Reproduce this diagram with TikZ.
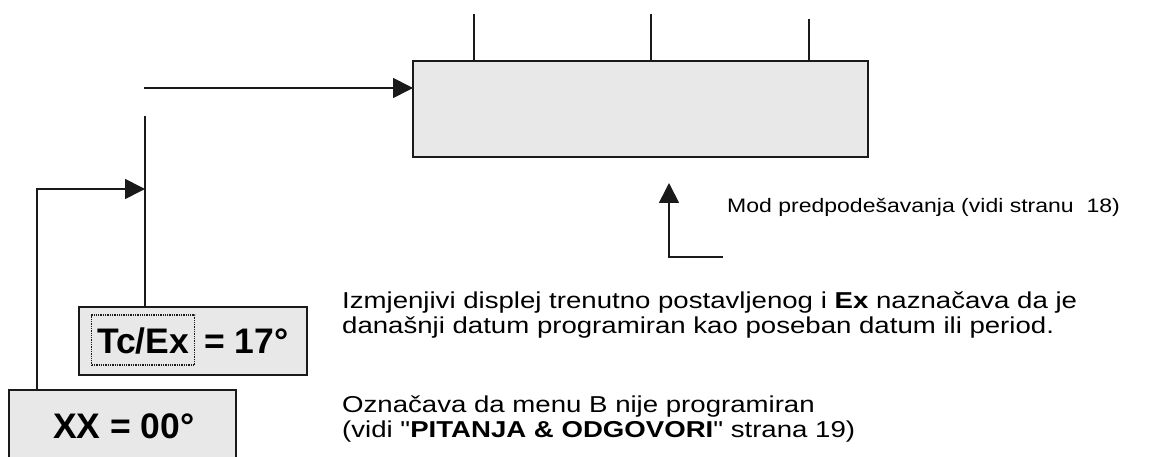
\documentclass[tikz,border=0pt]{standalone}
\usepackage{fontspec}
\setmainfont{Liberation Sans}
\newfontfamily\notefont[FakeStretch=1.2]{Liberation Sans}
\newfontfamily\modfont[FakeStretch=1.18]{Liberation Sans}
\usetikzlibrary{arrows.meta}
\definecolor{boxgray}{HTML}{E8E8E8}
\definecolor{ink}{HTML}{1A1A1A}
\begin{document}
\begin{tikzpicture}[x=1pt,y=-1pt,
  lcd/.style={draw=ink,line width=2pt,fill=boxgray,inner sep=0pt,outer sep=0pt,anchor=north west},
  conn/.style={draw=ink,line width=1.7pt},
  arr/.style={conn,-{Triangle[length=20pt,width=20pt]}},
  note/.style={anchor=base west,inner sep=0pt,align=left,font=\notefont\fontsize{23}{24.5}\selectfont},
  modnote/.style={anchor=base west,inner sep=0pt,font=\modfont\fontsize{19.5}{22}\selectfont},
  big/.style={anchor=base west,inner sep=0pt,font=\fontsize{35.5}{40}\selectfont\bfseries}]
\useasboundingbox (0,0) rectangle (1156,457);

% display box and its ticks
\node[lcd,minimum width=455pt,minimum height=96pt] (disp) at (413,61) {};
\coordinate (t1) at (474,14);
\coordinate (t2) at (651,14);
\coordinate (t3) at (809,19);
\draw[conn] (t1) -- (t1 |- disp.north);
\draw[conn] (t2) -- (t2 |- disp.north);
\draw[conn] (t3) -- (t3 |- disp.north);

% input arrow
\coordinate (in1) at (144,88);
\draw[arr] (in1) -- (in1 -| disp.west);

% boxes bottom left
\node[lcd,minimum width=228pt,minimum height=68pt] (tc) at (79,307) {};
\node[lcd,minimum width=227pt,minimum height=90pt] (xx) at (9,390) {};

\node[big,draw=ink,densely dotted,line width=1.3pt,inner xsep=5.5pt,inner ysep=0pt,
      text height=38pt,text depth=12pt] (tcex) at (91,353) {Tc/Ex};
\node[big] (tceq) at (204,353) {= 17°};
\node[big] (xxt) at (53,438) {XX = 00°};

% connectors from bottom-left boxes
\coordinate (v1) at (145,116);
\draw[conn] (v1) -- (v1 |- tc.north);
\coordinate (xxup) at (37,189);
\draw[arr] (xxup |- xx.north) -- (xxup) -- (xxup -| v1);

% preset mode arrow
\coordinate (mcorner) at (669,257);
\coordinate (mend) at (723,257);
\coordinate (mtip) at (669,183);
\draw[arr] (mend) -- (mcorner) -- (mtip);
\node[modnote] (modtext) at (727,213) {Mod predpodešavanja (vidi stranu\ \ 18)};

% notes (base anchor = baseline of the last line)
\node[note] (note1) at (342,333) {Izmjenjivi displej trenutno postavljenog i \textbf{Ex} naznačava da je\\današnji datum programiran kao poseban datum ili period.};
\node[note] (note2) at (342,437) {Označava da menu B nije programiran\\(vidi "\textbf{PITANJA \& ODGOVORI}" strana 19)};
\end{tikzpicture}
\end{document}
